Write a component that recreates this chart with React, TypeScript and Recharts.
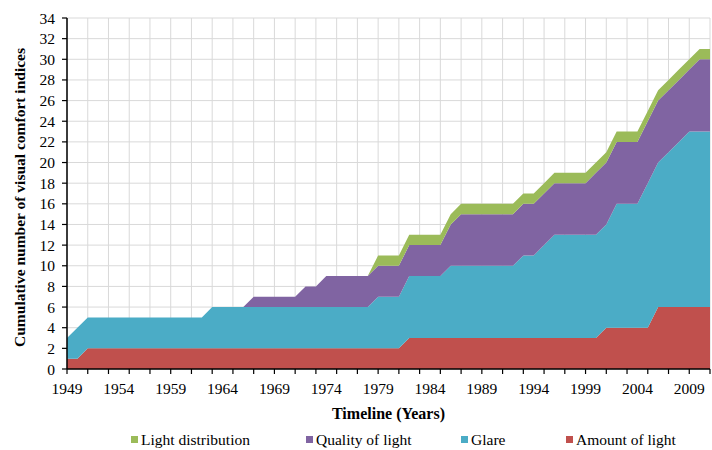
import React from "react"
import { AreaChart, Area, XAxis, YAxis, CartesianGrid, Legend } from "recharts"

const years = [
  1949, 1950, 1951, 1952, 1953, 1954, 1955, 1956, 1957, 1958,
  1959, 1960, 1961, 1962, 1963, 1964, 1965, 1966, 1967, 1968,
  1969, 1970, 1971, 1972, 1973, 1974, 1975, 1976, 1977, 1978,
  1979, 1980, 1981, 1982, 1983, 1984, 1985, 1986, 1987, 1988,
  1989, 1990, 1991, 1992, 1993, 1994, 1995, 1996, 1997, 1998,
  1999, 2000, 2001, 2002, 2003, 2004, 2005, 2006, 2007, 2008,
  2009, 2010, 2011,
]

const amountOfLight = [
  1, 1, 2, 2, 2, 2, 2, 2, 2, 2,
  2, 2, 2, 2, 2, 2, 2, 2, 2, 2,
  2, 2, 2, 2, 2, 2, 2, 2, 2, 2,
  2, 2, 2, 3, 3, 3, 3, 3, 3, 3,
  3, 3, 3, 3, 3, 3, 3, 3, 3, 3,
  3, 3, 4, 4, 4, 4, 4, 6, 6, 6,
  6, 6, 6,
]

const glare = [
  2, 3, 3, 3, 3, 3, 3, 3, 3, 3,
  3, 3, 3, 3, 4, 4, 4, 4, 4, 4,
  4, 4, 4, 4, 4, 4, 4, 4, 4, 4,
  5, 5, 5, 6, 6, 6, 6, 7, 7, 7,
  7, 7, 7, 7, 8, 8, 9, 10, 10, 10,
  10, 10, 10, 12, 12, 12, 14, 14, 15, 16,
  17, 17, 17,
]

const qualityOfLight = [
  0, 0, 0, 0, 0, 0, 0, 0, 0, 0,
  0, 0, 0, 0, 0, 0, 0, 0, 1, 1,
  1, 1, 1, 2, 2, 3, 3, 3, 3, 3,
  3, 3, 3, 3, 3, 3, 3, 4, 5, 5,
  5, 5, 5, 5, 5, 5, 5, 5, 5, 5,
  5, 6, 6, 6, 6, 6, 6, 6, 6, 6,
  6, 7, 7,
]

const lightDistribution = [
  0, 0, 0, 0, 0, 0, 0, 0, 0, 0,
  0, 0, 0, 0, 0, 0, 0, 0, 0, 0,
  0, 0, 0, 0, 0, 0, 0, 0, 0, 0,
  1, 1, 1, 1, 1, 1, 1, 1, 1, 1,
  1, 1, 1, 1, 1, 1, 1, 1, 1, 1,
  1, 1, 1, 1, 1, 1, 1, 1, 1, 1,
  1, 1, 1,
]

const labelYears = [1949, 1954, 1959, 1964, 1969, 1974, 1979, 1984, 1989, 1994, 1999, 2004, 2009]
const gridYears = [
  1949, 1951, 1953, 1955, 1957, 1959, 1961, 1963, 1965, 1967, 1969, 1971, 1973, 1975, 1977, 1979,
  1981, 1983, 1985, 1987, 1989, 1991, 1993, 1995, 1997, 1999, 2001, 2003, 2005, 2007, 2009, 2011,
]
const yTicks = [0, 2, 4, 6, 8, 10, 12, 14, 16, 18, 20, 22, 24, 26, 28, 30, 32, 34]

const COLORS = { amount: "#c0504d", glare: "#4bacc6", quality: "#8064a2", distribution: "#9bbb59" }

// legend runs top series first, like the original
const legendItems = [
  { name: "Light distribution", color: COLORS.distribution, left: 131 },
  { name: "Quality of light", color: COLORS.quality, left: 306 },
  { name: "Glare", color: COLORS.glare, left: 461 },
  { name: "Amount of light", color: COLORS.amount, left: 566 },
]

const data = years.map((year, i) => ({
  year,
  amount: amountOfLight[i],
  glare: glare[i],
  quality: qualityOfLight[i],
  distribution: lightDistribution[i],
}))

const xTicks = [...new Set([...gridYears, ...labelYears])].sort((a, b) => a - b)

const FONT = '"Liberation Serif", "Times New Roman", serif'

function XTick({ x, y, payload }: any) {
  const yr = payload.value
  return (
    <g>
      {gridYears.includes(yr) && <line x1={x} x2={x} y1={y} y2={y + 5} stroke="#000" strokeWidth={1.2} />}
      {labelYears.includes(yr) && (
        <text x={x} y={y + 25} textAnchor="middle" fontFamily={FONT} fontSize={15.5} fill="#000">
          {yr}
        </text>
      )}
    </g>
  )
}

function YTitle({ viewBox }: any) {
  const cy = viewBox.y + viewBox.height / 2 + 4
  return (
    <text
      x={21}
      y={cy}
      transform={`rotate(-90, 21, ${cy})`}
      textAnchor="middle"
      dominantBaseline="middle"
      fontFamily={FONT}
      fontWeight="bold"
      fontSize={15.5}
      fill="#000"
    >
      Cumulative number of visual comfort indices
    </text>
  )
}

function XTitle({ viewBox }: any) {
  const cx = viewBox.x + viewBox.width / 2
  return (
    <text x={cx} y={419} textAnchor="middle" fontFamily={FONT} fontWeight="bold" fontSize={16} fill="#000">
      Timeline (Years)
    </text>
  )
}

function LegendBox() {
  return (
    <div style={{ position: "relative", height: 21, fontFamily: FONT, fontSize: 15.5, lineHeight: "21px", color: "#000" }}>
      {legendItems.map((it) => (
        <div key={it.name} style={{ position: "absolute", left: it.left, top: 0, display: "flex", alignItems: "center", whiteSpace: "nowrap" }}>
          <span style={{ display: "inline-block", width: 7, height: 7, background: it.color, marginRight: 3 }} />
          {it.name}
        </div>
      ))}
    </div>
  )
}

export default function App() {
  return (
    <div style={{ position: "absolute", left: 0, top: 0, background: "#fff" }}>
      <AreaChart width={712} height={450} data={data} margin={{ top: 18, right: 2, bottom: 0, left: 0 }}>
        <CartesianGrid
          stroke="#d9d9d9"
          strokeWidth={1}
          verticalCoordinatesGenerator={({ xAxis, offset }: any) =>
            gridYears.map((yr) =>
              xAxis && typeof xAxis.scale === "function"
                ? xAxis.scale(yr)
                : offset.left + ((yr - 1949) / (2011 - 1949)) * offset.width
            )
          }
        />
        <XAxis
          dataKey="year"
          type="number"
          domain={[1949, 2011]}
          ticks={xTicks}
          interval={0}
          tickSize={0}
          tickMargin={0}
          tickLine={false}
          tick={<XTick />}
          height={60}
          axisLine={{ stroke: "#000", strokeWidth: 1.5 }}
          label={<XTitle />}
        />
        <YAxis
          width={67}
          domain={[0, 34]}
          ticks={yTicks}
          interval={0}
          tickSize={5}
          tickMargin={7}
          tickLine={{ stroke: "#000", strokeWidth: 1.2 }}
          axisLine={{ stroke: "#000", strokeWidth: 1.5 }}
          tick={{ fill: "#000", fontFamily: FONT, fontSize: 15.5 }}
          label={<YTitle />}
        />
        <Area type="linear" dataKey="amount" name="Amount of light" stackId="1" stroke="none" fill={COLORS.amount} fillOpacity={1} isAnimationActive={false} />
        <Area type="linear" dataKey="glare" name="Glare" stackId="1" stroke="none" fill={COLORS.glare} fillOpacity={1} isAnimationActive={false} />
        <Area type="linear" dataKey="quality" name="Quality of light" stackId="1" stroke="none" fill={COLORS.quality} fillOpacity={1} isAnimationActive={false} />
        <Area type="linear" dataKey="distribution" name="Light distribution" stackId="1" stroke="none" fill={COLORS.distribution} fillOpacity={1} isAnimationActive={false} />
        <Legend verticalAlign="bottom" height={21} wrapperStyle={{ left: 0, width: 712 }} content={<LegendBox />} />
      </AreaChart>
    </div>
  )
}
